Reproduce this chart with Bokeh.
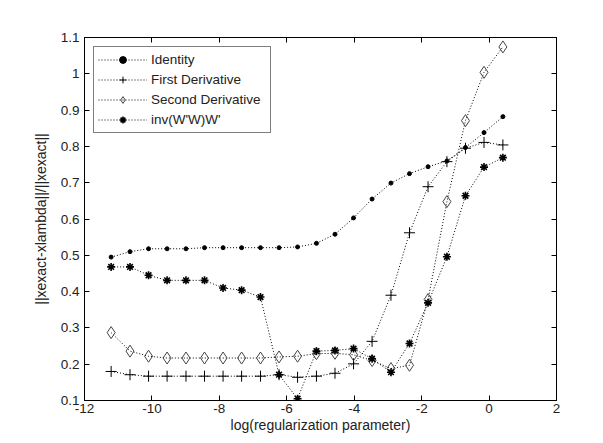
from bokeh.plotting import figure
from bokeh.models import Range1d, FixedTicker, LinearAxis, CustomJSTickFormatter, Legend, LegendItem
from bokeh.embed import file_html
from bokeh.resources import INLINE

# log(regularization parameter)
x_vals = [-11.21, -10.65, -10.10, -9.55, -8.99, -8.44, -7.89, -7.34, -6.78, -6.23, -5.68,
          -5.12, -4.57, -4.02, -3.47, -2.91, -2.36, -1.81, -1.25, -0.70, -0.15, 0.41]

identity = [0.495, 0.510, 0.518, 0.518, 0.518, 0.521, 0.521, 0.521, 0.521, 0.521, 0.523,
            0.533, 0.558, 0.603, 0.655, 0.699, 0.725, 0.744, 0.760, 0.797, 0.838, 0.882]
first_deriv = [0.180, 0.171, 0.167, 0.167, 0.167, 0.167, 0.167, 0.167, 0.167, 0.171, 0.164,
               0.167, 0.175, 0.201, 0.263, 0.390, 0.562, 0.689, 0.758, 0.795, 0.811, 0.804]
second_deriv = [0.287, 0.236, 0.222, 0.217, 0.217, 0.217, 0.217, 0.217, 0.217, 0.220, 0.222,
                0.229, 0.230, 0.226, 0.210, 0.188, 0.197, 0.378, 0.648, 0.871, 1.004, 1.074]
inv_ww = [0.468, 0.468, 0.445, 0.431, 0.431, 0.431, 0.410, 0.404, 0.385, 0.171, 0.105,
          0.236, 0.238, 0.243, 0.215, 0.178, 0.257, 0.369, 0.496, 0.664, 0.743, 0.769]

series_names = ["Identity", "First Derivative", "Second Derivative", "inv(W'W)W'"]
x_ticks = [-12, -10, -8, -6, -4, -2, 0, 2]
y_ticks = [0.1, 0.2, 0.3, 0.4, 0.5, 0.6, 0.7, 0.8, 0.9, 1.0, 1.1]

FONT = "Liberation Sans"

p = figure(width=593, height=440, output_backend="svg", toolbar_location=None,
           x_range=Range1d(-12, 2), y_range=Range1d(0.1, 1.1),
           min_border_left=84, min_border_right=37, min_border_top=37, min_border_bottom=40,
           x_axis_label="log(regularization parameter)",
           y_axis_label="||xexact-xlambda||/||xexact||")
p.grid.visible = False
p.outline_line_color = "black"
p.outline_line_width = 1

fmt = CustomJSTickFormatter(code="return String(Math.round(tick*10)/10);")

for ax in p.xaxis:
    ax.ticker = FixedTicker(ticks=x_ticks)
    ax.formatter = fmt
    ax.major_label_standoff = 3
    ax.axis_label_standoff = 1
for ax in p.yaxis:
    ax.ticker = FixedTicker(ticks=y_ticks)
    ax.formatter = fmt
    ax.major_label_standoff = 5
    ax.axis_label_standoff = 9

for ax in list(p.xaxis) + list(p.yaxis):
    ax.major_tick_in = 5
    ax.major_tick_out = 0
    ax.minor_tick_line_color = None
    ax.axis_line_color = "black"
    ax.major_tick_line_color = "black"
    ax.major_label_text_font = FONT
    ax.major_label_text_font_size = "13.5px"
    ax.major_label_text_color = "#222222"
    ax.axis_label_text_font = FONT
    ax.axis_label_text_font_size = "14px"
    ax.axis_label_text_font_style = "normal"
    ax.axis_label_text_color = "#222222"

top_ax = LinearAxis(ticker=FixedTicker(ticks=x_ticks), major_label_text_color=None,
                    major_label_standoff=0, major_tick_in=5, major_tick_out=0,
                    minor_tick_line_color=None, axis_line_color="black")
right_ax = LinearAxis(ticker=FixedTicker(ticks=y_ticks), major_label_text_color=None,
                      major_label_standoff=0, major_tick_in=5, major_tick_out=0,
                      minor_tick_line_color=None, axis_line_color="black")
p.add_layout(top_ax, "above")
p.add_layout(right_ax, "right")

DASH = "1 2"
items = []

l1 = p.line(x_vals, identity, line_color="black", line_width=1, line_dash=DASH)
m1 = p.scatter(x_vals, identity, marker="circle", size=4, fill_color="black", line_color="black")
items.append(LegendItem(label=series_names[0], renderers=[l1, m1]))

l2 = p.line(x_vals, first_deriv, line_color="black", line_width=1, line_dash=DASH)
m2 = p.scatter(x_vals, first_deriv, marker="cross", size=11, line_color="black", line_width=1)
items.append(LegendItem(label=series_names[1], renderers=[l2, m2]))

l3 = p.line(x_vals, second_deriv, line_color="black", line_width=1, line_dash=DASH)
m3 = p.scatter(x_vals, second_deriv, marker="diamond", size=12, line_color="#444444",
               fill_alpha=0, line_width=1)
items.append(LegendItem(label=series_names[2], renderers=[l3, m3]))

l4 = p.line(x_vals, inv_ww, line_color="black", line_width=1, line_dash=DASH)
m4 = p.scatter(x_vals, inv_ww, marker="asterisk", size=8, line_color="black", line_width=1.6)
items.append(LegendItem(label=series_names[3], renderers=[l4, m4]))

legend = Legend(items=items, location="top_left")
legend.margin = 9
legend.padding = 4
legend.spacing = 3
legend.glyph_width = 49
legend.glyph_height = 17
legend.label_height = 17
legend.label_width = 115
legend.label_standoff = 4
legend.label_text_font = FONT
legend.label_text_font_size = "13.5px"
legend.label_text_color = "#222222"
legend.border_line_color = "black"
legend.border_line_width = 1
legend.background_fill_color = "white"
legend.background_fill_alpha = 1
p.add_layout(legend, "center")

open("out.html", "w").write(file_html(p, INLINE))
